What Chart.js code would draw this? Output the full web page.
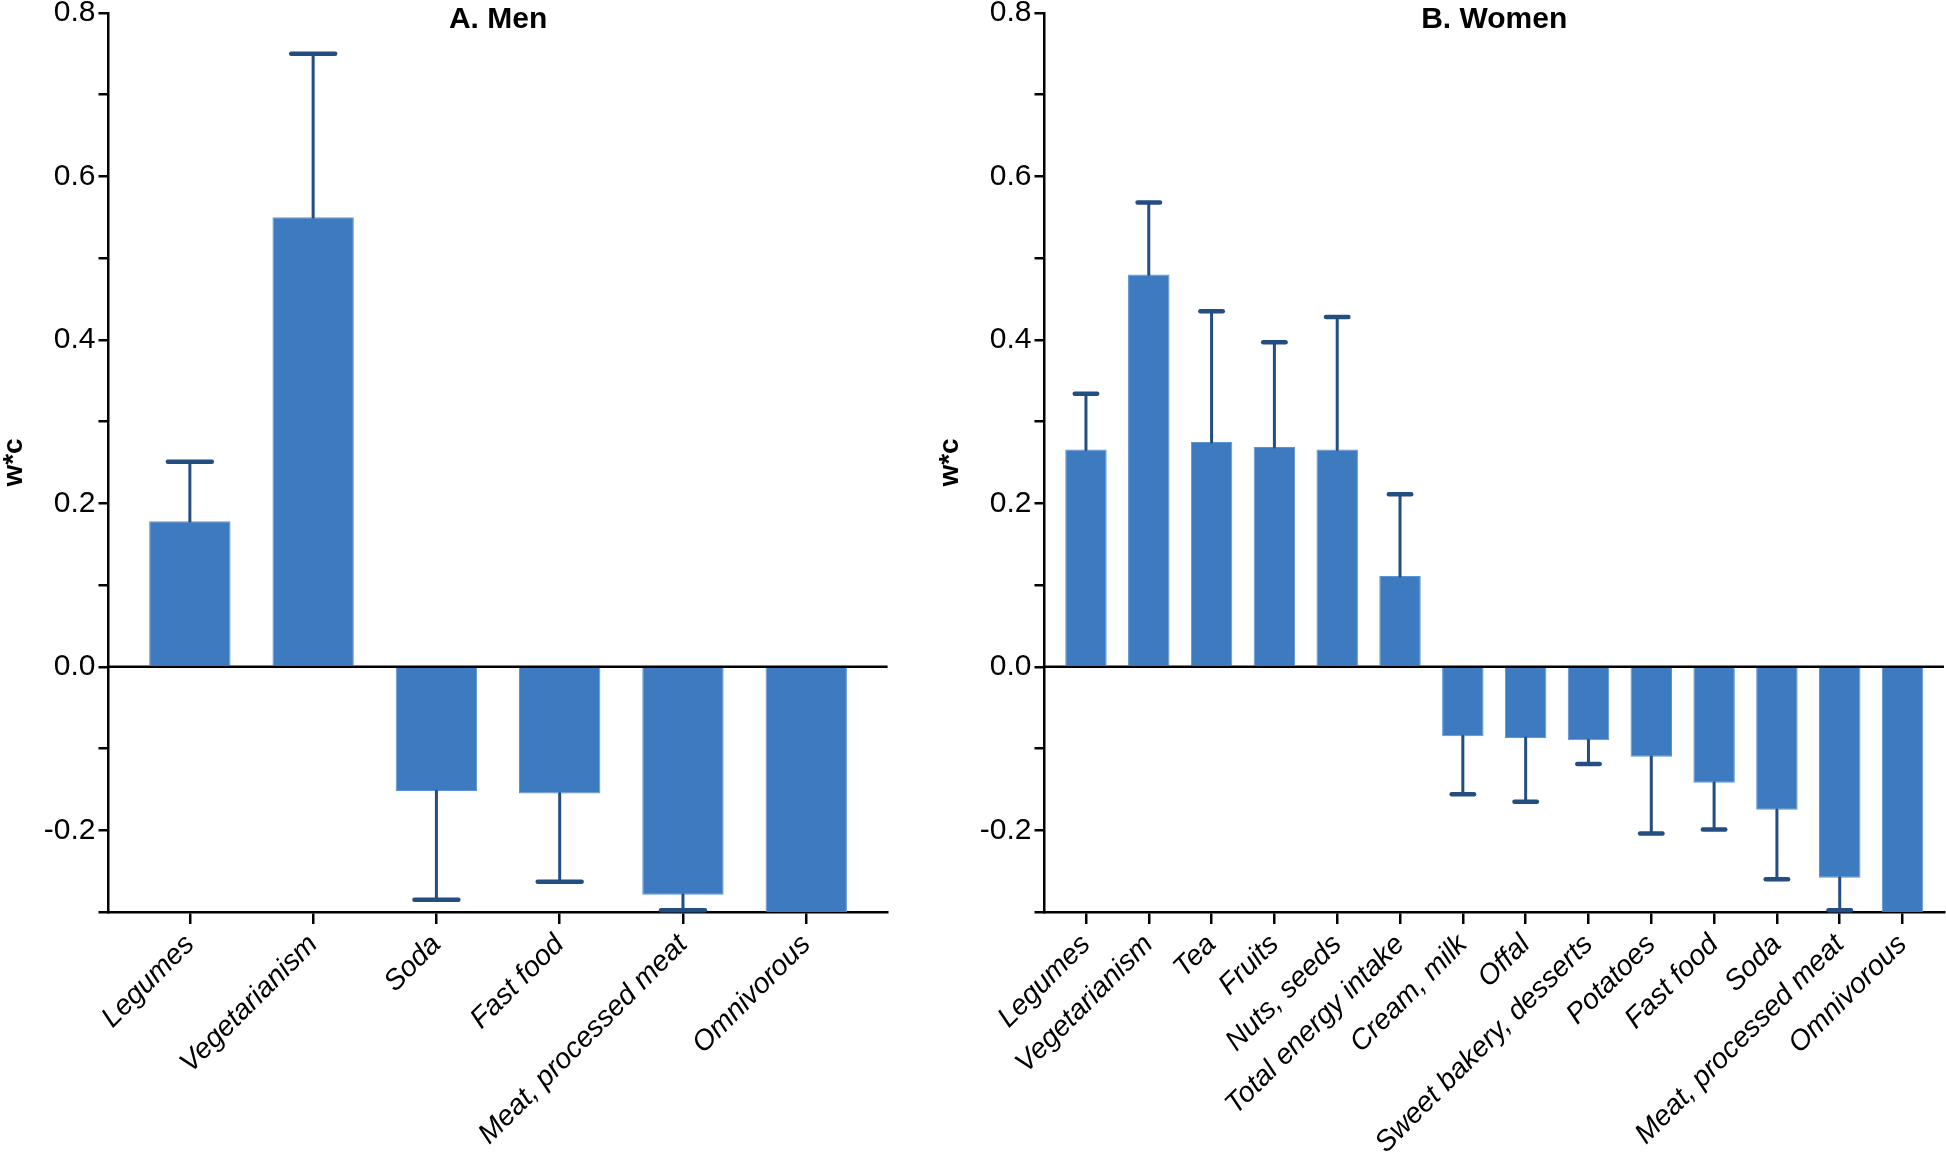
<!DOCTYPE html>
<html>
<head>
<meta charset="utf-8">
<title>w*c by food item, men and women</title>
<script src="https://cdn.jsdelivr.net/npm/chart.js@4.4.1/dist/chart.umd.min.js"></script>
<style>
  body { margin: 0; background: #fff; }
  #wrap { position: relative; width: 1946px; height: 1159px; }
  .panel { position: absolute; top: 0; }
</style>
</head>
<body>
<div id="wrap">
  <div class="panel" style="left:0"><canvas id="chartMen" width="936" height="1159"></canvas></div>
  <div class="panel" style="left:936px"><canvas id="chartWomen" width="1010" height="1159"></canvas></div>
</div>
<script>
// values (bar = w*c, err = one-sided error bar)
const menLabels = ["Legumes", "Vegetarianism", "Soda", "Fast food", "Meat, processed meat", "Omnivorous"];
const menValues = [0.178, 0.550, -0.152, -0.155, -0.279, -0.31];
const menErrors = [0.073, 0.200, 0.133, 0.108, 0.019, null];

const womenLabels = ["Legumes", "Vegetarianism", "Tea", "Fruits", "Nuts, seeds", "Total energy intake",
    "Cream, milk", "Offal", "Sweet bakery, desserts", "Potatoes", "Fast food", "Soda",
    "Meat, processed meat", "Omnivorous"];
const womenValues = [0.266, 0.480, 0.275, 0.269, 0.266, 0.111,
    -0.085, -0.087, -0.090, -0.110, -0.142, -0.175, -0.258, -0.31];
const womenErrors = [0.068, 0.088, 0.160, 0.128, 0.162, 0.100,
    0.071, 0.078, 0.029, 0.094, 0.057, 0.085, 0.040, null];

const yMin = -0.3, yMax = 0.8, yStep = 0.1;

const barColor = '#3d7abf';
const barEdge = '#5b93d4';
const errColor = '#244d82';
const FONT = '"Liberation Sans", Arial, Helvetica, sans-serif';

Chart.defaults.font.family = FONT;
Chart.defaults.color = '#000';

// zero line, error bars and panel title
function panelPlugin(title, errors) {
    return {
        id: 'panel',
        afterDatasetsDraw(chart) {
            const ctx = chart.ctx, area = chart.chartArea;
            const xs = chart.scales.x, ys = chart.scales.y;
            const bars = chart.getDatasetMeta(0).data;
            const y0 = ys.getPixelForValue(0);

            ctx.save();
            ctx.strokeStyle = '#000';
            ctx.lineWidth = 2.5;
            ctx.beginPath();
            ctx.moveTo(area.left, y0);
            ctx.lineTo(area.right, y0);
            ctx.stroke();

            ctx.beginPath();
            ctx.rect(area.left, area.top - 5, area.right - area.left, area.bottom - area.top + 7);
            ctx.clip();
            ctx.strokeStyle = errColor;
            ctx.lineCap = 'round';
            chart.data.datasets[0].data.forEach((d, i) => {
                if (errors[i] == null) return;
                const sign = d.y < 0 ? -1 : 1;
                const px = xs.getPixelForValue(d.x);
                const ya = ys.getPixelForValue(d.y);
                const yb = ys.getPixelForValue(d.y + sign * errors[i]);
                const half = bars[i].width * 0.27;
                ctx.lineWidth = 3;
                ctx.beginPath();
                ctx.moveTo(px, ya);
                ctx.lineTo(px, yb);
                ctx.stroke();
                ctx.lineWidth = 4.5;
                ctx.beginPath();
                ctx.moveTo(px - half, yb);
                ctx.lineTo(px + half, yb);
                ctx.stroke();
            });
            ctx.restore();

            ctx.save();
            ctx.fillStyle = '#000';
            ctx.font = 'bold 30px ' + FONT;
            ctx.textAlign = 'center';
            ctx.textBaseline = 'alphabetic';
            ctx.fillText(title, (area.left + area.right) / 2, 28);
            ctx.restore();
        }
    };
}

function makeChart(id, title, labels, values, errors, padRight) {
    const n = labels.length;
    return new Chart(document.getElementById(id), {
        type: 'bar',
        data: {
            datasets: [{
                data: values.map((v, i) => ({ x: i, y: v })),
                backgroundColor: barColor,
                borderColor: barEdge,
                borderWidth: 1,
                barPercentage: 0.66,
                categoryPercentage: 1,
                clip: 0
            }]
        },
        options: {
            responsive: false,
            animation: false,
            events: [],
            layout: { padding: { top: 13, right: padRight, bottom: 0, left: 0 } },
            plugins: { legend: { display: false }, tooltip: { enabled: false } },
            scales: {
                x: {
                    type: 'linear',
                    offset: false,
                    min: -0.66,
                    max: n - 1 + 0.66,
                    z: 1,
                    grid: { offset: false, drawOnChartArea: false, drawTicks: true, tickLength: 12, tickWidth: 2.5, tickColor: '#000', lineWidth: 2.5 },
                    border: { display: true, color: '#000', width: 2.5 },
                    ticks: {
                        stepSize: 1,
                        includeBounds: false,
                        autoSkip: false,
                        maxTicksLimit: 100,
                        minRotation: 45,
                        maxRotation: 45,
                        padding: 4,
                        font: { size: 28.5, style: 'italic' },
                        callback: v => labels[v] || ''
                    },
                    afterFit: s => { s.height = 247; s.paddingLeft = 0; s.paddingRight = 0; }
                },
                y: {
                    min: yMin,
                    max: yMax,
                    z: 1,
                    grid: { drawOnChartArea: false, drawTicks: true, tickLength: 10, tickWidth: 2.5, tickColor: '#000', lineWidth: 2.5 },
                    border: { display: true, color: '#000', width: 2.5 },
                    ticks: {
                        stepSize: yStep,
                        maxTicksLimit: 100,
                        padding: 3,
                        font: { size: 30 },
                        callback: v => Math.round(v * 10) % 2 === 0 ? v.toFixed(1) : ''
                    },
                    title: {
                        display: true,
                        text: 'w*c',
                        padding: { top: 0, bottom: 0 },
                        font: { size: 28, weight: 'bold', lineHeight: 1 }
                    },
                    afterFit: s => { s.width = 108.5; s.paddingTop = 0; s.paddingBottom = 0; }
                }
            }
        },
        plugins: [panelPlugin(title, errors)]
    });
}

makeChart('chartMen', 'A. Men', menLabels, menValues, menErrors, 48.4);
makeChart('chartWomen', 'B. Women', womenLabels, womenValues, womenErrors, 2);
</script>
</body>
</html>
